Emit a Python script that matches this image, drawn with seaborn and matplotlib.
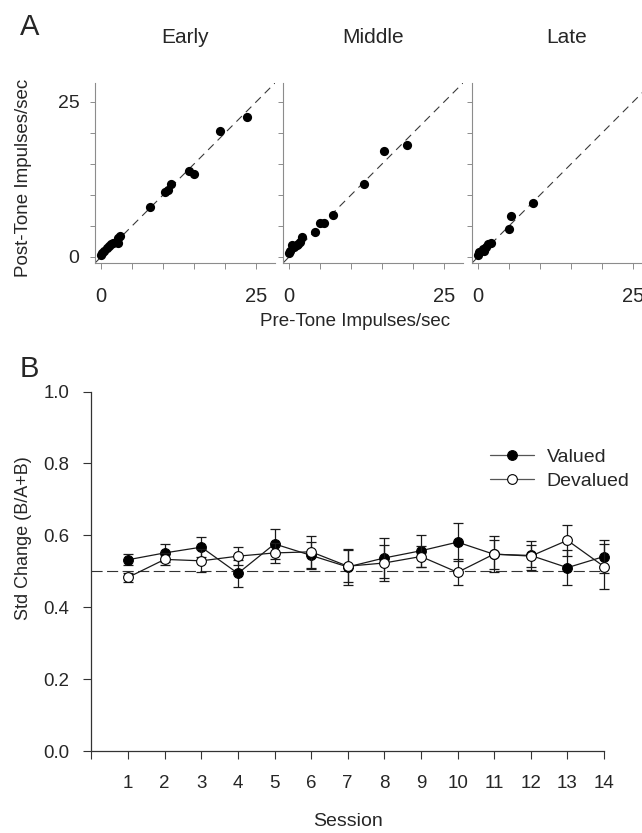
import matplotlib
matplotlib.use("Agg")
import matplotlib.pyplot as plt
from matplotlib.lines import Line2D
import seaborn as sns
import numpy as np
import pandas as pd

# panel A: firing rate of each unit before / after the tone
early_pre = [23.5, 19.1, 14.1, 14.9, 11.3, 10.7, 10.2, 7.9, 3.1, 2.7, 2.7, 1.9, 1.6, 1.3, 0.9, 0.5, 0.2, 0.0]
early_post = [22.6, 20.3, 13.9, 13.4, 11.8, 10.8, 10.4, 8.0, 3.4, 3.1, 2.3, 2.3, 2.1, 1.8, 1.4, 1.0, 0.6, 0.3]
middle_pre = [19.0, 15.2, 12.0, 7.0, 5.6, 4.9, 4.2, 2.0, 1.8, 1.4, 1.2, 0.8, 0.4, 0.1, 0.0]
middle_post = [18.0, 17.0, 11.7, 6.8, 5.4, 5.5, 4.0, 3.2, 2.4, 2.0, 1.9, 1.6, 1.9, 1.0, 0.6]
late_pre = [8.8, 5.3, 5.0, 2.1, 1.5, 1.2, 0.9, 0.7, 0.2, 0.0]
late_post = [8.7, 6.6, 4.5, 2.3, 2.1, 1.5, 1.0, 1.2, 0.7, 0.3]
stage_names = ["Early", "Middle", "Late"]

# panel B: standardized change per session (mean +- sem)
session = list(range(1, 15))
valued_mean = [0.532, 0.551, 0.567, 0.494, 0.576, 0.544, 0.512, 0.537, 0.557, 0.581, 0.547, 0.544, 0.510, 0.541]
valued_sem = [0.016, 0.026, 0.027, 0.038, 0.041, 0.038, 0.050, 0.056, 0.044, 0.052, 0.040, 0.040, 0.049, 0.046]
devalued_mean = [0.483, 0.533, 0.529, 0.542, 0.551, 0.554, 0.514, 0.523, 0.541, 0.497, 0.548, 0.542, 0.586, 0.513]
devalued_sem = [0.013, 0.017, 0.032, 0.025, 0.028, 0.044, 0.045, 0.050, 0.030, 0.036, 0.051, 0.031, 0.044, 0.063]

sns.set_style("ticks")
plt.rcParams['font.family'] = ['Liberation Sans', 'DejaVu Sans']

W, H = 642, 833
fig = plt.figure(figsize=(W / 100, H / 100), dpi=100)


def px_axes(left, top, width, height):
    return fig.add_axes([left / W, 1 - (top + height) / H, width / W, height / H])


def fig_text(x, y, s, **kw):
    return fig.text(x / W, 1 - y / H, s, **kw)


# ---- panel A
pairs = [(early_pre, early_post), (middle_pre, middle_post), (late_pre, late_post)]
lefts = [95, 283, 472]
title_x = [185, 373, 567]
gray = "#8c8c8c"
for i, (pre, post) in enumerate(pairs):
    ax = px_axes(lefts[i], 83, 180, 180)
    df = pd.DataFrame({"pre": pre, "post": post})
    ax.plot([-1, 28], [-1, 28], color="#3a3a3a", lw=0.8, ls=(0, (7, 5)), zorder=1)
    sns.scatterplot(data=df, x="pre", y="post", ax=ax, color="black", s=44,
                    linewidth=0, zorder=3)
    ax.set_xlim(-1, 28)
    ax.set_ylim(-1, 28)
    ticks = np.arange(0, 30, 5)
    lbls = ["0", "", "", "", "", "25"]
    ax.set_xticks(ticks)
    ax.set_yticks(ticks)
    ax.set_xticklabels(lbls)
    ax.set_yticklabels(lbls if i == 0 else [""] * len(ticks))
    ax.set_xlabel("")
    ax.set_ylabel("")
    sns.despine(ax=ax)
    for s in ("left", "bottom"):
        ax.spines[s].set_color(gray)
        ax.spines[s].set_linewidth(0.8)
    ax.tick_params(axis="x", length=4, width=0.7, color=gray, labelsize=14.5, pad=13)
    ax.tick_params(axis="y", length=3.3, width=0.7, color=gray, labelsize=14, pad=8)
    fig_text(title_x[i], 43, stage_names[i], ha="center", va="baseline", fontsize=15)

fig_text(29.5, 35, "A", ha="center", va="baseline", fontsize=21)
fig_text(24, 178, "Post-Tone Impulses/sec", rotation=90, ha="center", va="center", fontsize=13.5)
fig_text(355, 322, "Pre-Tone Impulses/sec", ha="center", va="center", fontsize=13.5)

# ---- panel B
dark = "#1a1a1a"
ax = px_axes(91.5, 391.5, 512.5, 359.5)
ax.axhline(0.5, color="#333333", lw=0.8, ls=(0, (10, 4)), zorder=1)
series = [(valued_mean, valued_sem, "black", 2), (devalued_mean, devalued_sem, "white", 4)]
for mean, sem, face, z in series:
    df = pd.DataFrame({"session": session, "value": mean})
    ax.errorbar(session, mean, yerr=sem, fmt="none", ecolor=dark, elinewidth=0.9,
                capsize=3.8, capthick=0.9, zorder=z)
    sns.lineplot(data=df, x="session", y="value", ax=ax, color=dark, lw=0.9,
                 marker="o", markersize=7, markerfacecolor=face,
                 markeredgecolor="black", markeredgewidth=0.8, zorder=z + 1)
for art in ax.get_children():
    art.set_clip_on(False)

ax.set_xlim(0, 14)
ax.set_ylim(0, 1)
ax.set_xticks(range(0, 15))
ax.set_xticklabels([""] + [str(s) for s in session])
ax.set_yticks(np.arange(0, 1.01, 0.2))
ax.set_yticklabels([f"{v:.1f}" for v in np.arange(0, 1.01, 0.2)])
ax.set_xlabel("")
ax.set_ylabel("")
sns.despine(ax=ax)
for s in ("left", "bottom"):
    ax.spines[s].set_color("#333333")
    ax.spines[s].set_linewidth(0.9)
ax.tick_params(axis="x", length=6, width=0.8, color="#333333", labelsize=13.5, pad=11.5)
ax.tick_params(axis="y", length=6, width=0.8, color="#333333", labelsize=13.4, pad=10)

handles = [
    Line2D([], [], color="#555555", lw=0.9, marker="o", ms=7, mfc="black", mec="black", mew=0.8),
    Line2D([], [], color="#555555", lw=0.9, marker="o", ms=7, mfc="white", mec="black", mew=0.8),
]
ax.legend(handles, ["Valued", "Devalued"], loc="center left",
          bbox_to_anchor=(490 / W, 1 - 469 / H), bbox_transform=fig.transFigure,
          frameon=False, borderpad=0, borderaxespad=0, handlelength=2.26,
          handletextpad=0.65, labelspacing=0.35, fontsize=14)

fig_text(29.5, 377, "B", ha="center", va="baseline", fontsize=21)
fig_text(24, 538, "Std Change (B/A+B)", rotation=90, ha="center", va="center", fontsize=13)
fig_text(347.8, 822, "Session", ha="center", va="center", fontsize=14)

fig.savefig("out.png", dpi=100)
